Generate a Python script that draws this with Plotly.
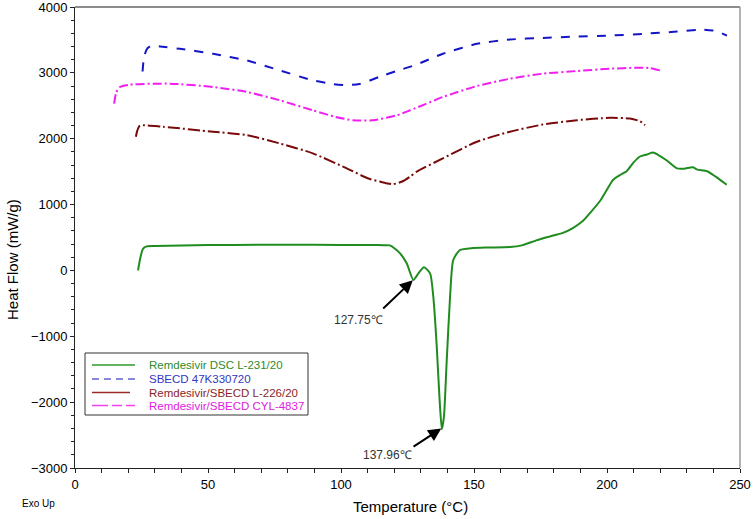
import plotly.graph_objects as go

# Remdesivir DSC L-231/20 (green)
rem_x = [23.7, 24.6, 25.6, 27.0, 30, 40, 60, 80, 100, 112, 116.0, 118.4, 120.3, 122.2, 124.7, 127.2, 129.1,
         131.2, 133.5, 134.7, 136.0, 137.0, 137.9, 138.7, 139.7, 141.0, 142.2, 144.7, 149.6, 155, 163.5,
         168, 173.7, 178, 183.4, 187, 190.9, 194, 197.3, 200, 202.2, 203, 205, 207.5, 210, 212.4, 215,
         217.3, 219, 222.5, 226.3, 229, 232.3, 234, 237.6, 241, 245]
rem_y = [0, 200, 330, 365, 370, 380, 388, 390, 388, 386, 384, 380, 330, 260, 108, -145, -44,
         47, -44, -399, -1158, -1917, -2412, -2221, -1410, -399, 158, 310, 340, 348, 355,
         380, 460, 510, 570, 640, 750, 890, 1050, 1230, 1370, 1400, 1450, 1510, 1640, 1730, 1760,
         1790, 1760, 1670, 1550, 1545, 1565, 1530, 1505, 1420, 1300]

# SBECD 47K330720 (blue)
sb_x = [25.4, 26.0, 27.2, 28.8, 32, 39.4, 51.9, 64.6, 77, 89.4, 97, 102.2, 107, 114.6, 121, 128, 138.3,
        151.1, 163.5, 175.9, 188.7, 201.1, 213.5, 226.3, 236.1, 239.8, 242.5, 245.1]
sb_y = [3020, 3250, 3370, 3415, 3400, 3365, 3290, 3188, 3037, 2886, 2830, 2815, 2830, 2942, 3030, 3120, 3290,
        3441, 3506, 3531, 3551, 3566, 3592, 3627, 3657, 3642, 3610, 3566]

# Remdesivir/SBECD L-226/20 (dark red)
rl_x = [22.9, 23.4, 24.4, 33.1, 51.9, 64.6, 77, 89.4, 102.2, 110, 114.6, 119.5, 123, 126, 128.5, 138.3,
        151.1, 163.5, 175.9, 188.7, 201.1, 208.6, 212.4, 214.3]
rl_y = [2030, 2120, 2197, 2181, 2106, 2054, 1928, 1778, 1550, 1400, 1349, 1310, 1350, 1425, 1500, 1702,
        1954, 2106, 2216, 2281, 2317, 2307, 2266, 2206]

# Remdesivir/SBECD CYL-4837 (magenta)
cy_x = [14.7, 15.5, 16.9, 20.6, 35.7, 51.9, 64.6, 77, 89.4, 98, 104.5, 112, 121, 126, 132, 138.3,
        151.1, 163.5, 175.9, 188.7, 201.1, 211.3, 216.1, 219.9]
cy_y = [2533, 2700, 2786, 2821, 2836, 2786, 2710, 2583, 2432, 2330, 2280, 2280, 2356, 2432, 2530, 2634,
        2800, 2911, 2987, 3028, 3063, 3078, 3073, 3037]

names = ["Remdesivir DSC L-231/20", "SBECD 47K330720",
         "Remdesivir/SBECD L-226/20", "Remdesivir/SBECD CYL-4837"]
colors = ["#1f8c1f", "#1515c8", "#7a0a0a", "#f01ef0"]
text_colors = ["#2e8b2e", "#3535c0", "#8b2525", "#e020e0"]
legend_colors = ["#2e9a2e", "#6060d0", "#9a2a2a", "#f040f0"]
dashes = ["solid", "dash", "12px,3px,2px,3px", "9px,3px,2px,3px"]
legend_dashes = ["solid", "7px,5px", "38px,7px,2px,3px", "16px,4px,10px,4px"]

x_ticks = [0, 50, 100, 150, 200, 250]
y_ticks = [-3000, -2000, -1000, 0, 1000, 2000, 3000, 4000]

FONT = "Liberation Sans, Arial, sans-serif"

W, H = 755, 519
L, R, T, B = 75, 15, 7, 51
PW, PH = W - L - R, H - T - B


def px(xwin):
    return (xwin - L) / PW


def py(ywin):
    return (H - B - ywin) / PH


fig = go.Figure()
for xs, ys, nm, c, d in zip([rem_x, sb_x, rl_x, cy_x], [rem_y, sb_y, rl_y, cy_y], names, colors, dashes):
    fig.add_trace(go.Scatter(x=xs, y=ys, mode="lines", name=nm, showlegend=False, hoverinfo="skip",
                             line=dict(color=c, width=2, dash=d, shape="spline", smoothing=0.6)))

fig.update_layout(
    width=W, height=H,
    margin=dict(l=L, r=R, t=T, b=B, autoexpand=False),
    paper_bgcolor="white", plot_bgcolor="white",
    font=dict(family=FONT, color="black"),
    showlegend=False,
)
fig.update_xaxes(range=[0, 250], tickvals=x_ticks, ticks="outside", ticklen=4, tickwidth=1,
                 tickcolor="#222", showline=True, linecolor="#222", linewidth=1, automargin=False,
                 showgrid=False, zeroline=False, tickfont=dict(size=13, family=FONT),
                 ticklabeloverflow="allow",
                 minor=dict(dtick=10, ticks="outside", ticklen=4, tickcolor="#222"))
fig.update_yaxes(range=[-3000, 4000], tickvals=y_ticks, ticks="outside", ticklen=4, tickwidth=1,
                 tickcolor="#222", showline=True, linecolor="#222", linewidth=1, automargin=False,
                 showgrid=False, zeroline=False, tickfont=dict(size=13, family=FONT),
                 ticklabeloverflow="allow",
                 minor=dict(dtick=200, ticks="outside", ticklen=3, tickcolor="#222"))

# axis titles
fig.add_annotation(xref="paper", yref="paper", x=px(12), y=py(260), textangle=-90,
                   xanchor="center", yanchor="middle",
                   text="Heat Flow (mW/g)", showarrow=False, font=dict(size=15, family=FONT))
fig.add_annotation(xref="paper", yref="paper", x=px(410), y=py(506),
                   xanchor="center", yanchor="middle",
                   text="Temperature (°C)", showarrow=False, font=dict(size=15, family=FONT))
fig.add_annotation(xref="paper", yref="paper", x=px(20), y=py(503), xanchor="left", yanchor="middle",
                   text="Exo Up", showarrow=False, font=dict(size=10, family=FONT))

# gray frame top/right
fig.add_shape(type="line", xref="paper", yref="paper", x0=0, x1=1, y0=1, y1=1,
              line=dict(color="#666666", width=1.5))
fig.add_shape(type="line", xref="paper", yref="paper", x0=1, x1=1, y0=0, y1=1,
              line=dict(color="#999999", width=1.5))

# custom legend
fig.add_shape(type="rect", xref="paper", yref="paper", x0=px(85), x1=px(308), y0=py(415), y1=py(353),
              line=dict(color="#333333", width=1), fillcolor="white", layer="above")
rows = [365, 379, 392.5, 405.5]
for nm, lc, tc, ld, ry in zip(names, legend_colors, text_colors, legend_dashes, rows):
    fig.add_shape(type="line", xref="paper", yref="paper", x0=px(92), x1=px(135), y0=py(ry), y1=py(ry),
                  line=dict(color=lc, width=1.5, dash=ld), layer="above")
    fig.add_annotation(xref="paper", yref="paper", x=px(147), y=py(ry), xanchor="left", yanchor="middle",
                       text=nm, showarrow=False, font=dict(size=11.5, family=FONT, color=tc))

# arrows
fig.add_annotation(x=127.0, y=-150, ax=115.3, ay=-600, xref="x", yref="y", axref="x", ayref="y",
                   text="", showarrow=True, arrowhead=2, arrowsize=1.3, arrowwidth=2, arrowcolor="black")
fig.add_annotation(x=106.5, y=-760, text="127.75℃", showarrow=False,
                   font=dict(size=12, family=FONT, color="#333"))
fig.add_annotation(x=137.7, y=-2400, ax=126.7, ay=-2690, xref="x", yref="y", axref="x", ayref="y",
                   text="", showarrow=True, arrowhead=2, arrowsize=1.3, arrowwidth=2, arrowcolor="black")
fig.add_annotation(x=117.5, y=-2810, text="137.96℃", showarrow=False,
                   font=dict(size=12, family=FONT, color="#333"))

fig.write_html("out.html", config={"displayModeBar": False},
               post_script="document.body.style.margin='0px';")
